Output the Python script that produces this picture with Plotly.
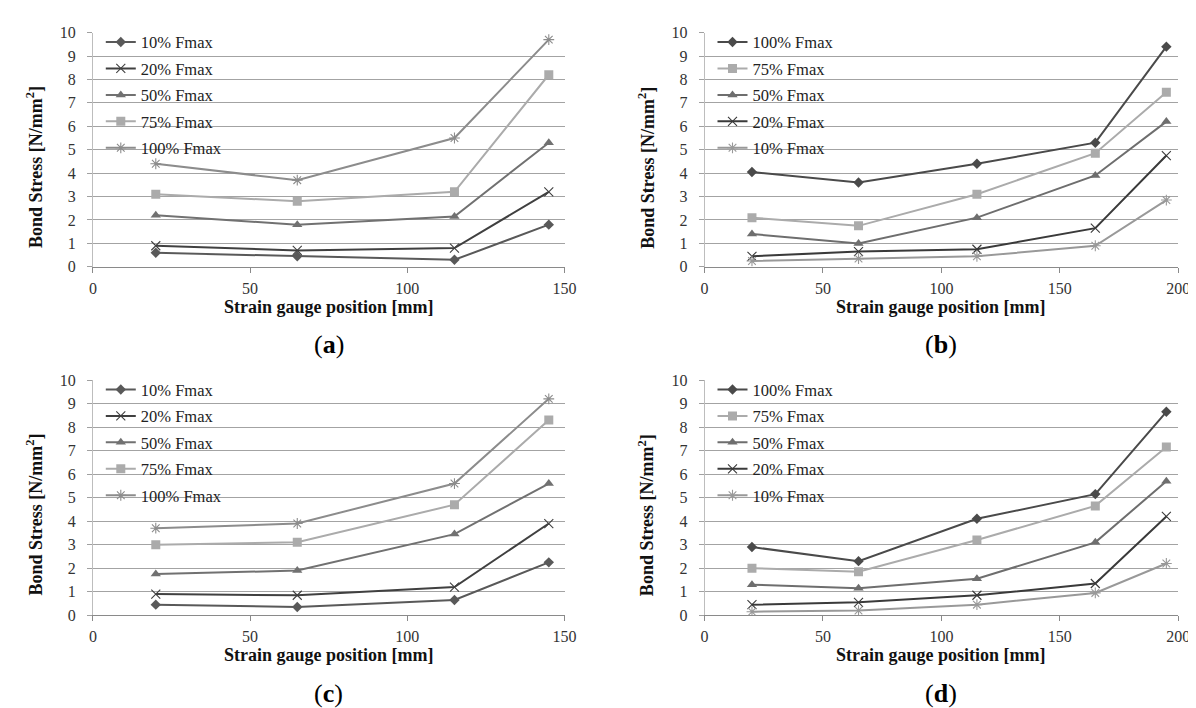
import plotly.graph_objects as go

W, H = 1196, 708

# ---------------- data ----------------
x_ac = [20, 65, 115, 145]
x_bd = [20, 65, 115, 165, 195]

a_10 = [0.6, 0.45, 0.3, 1.8]
a_20 = [0.9, 0.7, 0.8, 3.2]
a_50 = [2.2, 1.8, 2.15, 5.3]
a_75 = [3.1, 2.8, 3.2, 8.2]
a_100 = [4.4, 3.7, 5.5, 9.7]

b_100 = [4.05, 3.6, 4.4, 5.3, 9.4]
b_75 = [2.1, 1.75, 3.1, 4.85, 7.45]
b_50 = [1.4, 1.0, 2.1, 3.9, 6.2]
b_20 = [0.45, 0.65, 0.75, 1.65, 4.75]
b_10 = [0.25, 0.35, 0.45, 0.9, 2.85]

c_10 = [0.45, 0.35, 0.65, 2.25]
c_20 = [0.9, 0.85, 1.2, 3.9]
c_50 = [1.75, 1.9, 3.45, 5.6]
c_75 = [3.0, 3.1, 4.7, 8.3]
c_100 = [3.7, 3.9, 5.6, 9.2]

d_100 = [2.9, 2.3, 4.1, 5.15, 8.65]
d_75 = [2.0, 1.85, 3.2, 4.65, 7.15]
d_50 = [1.3, 1.15, 1.55, 3.1, 5.7]
d_20 = [0.45, 0.55, 0.85, 1.35, 4.2]
d_10 = [0.15, 0.2, 0.45, 0.95, 2.2]

x_ticks_ac = [0, 50, 100, 150]
x_ticks_bd = [0, 50, 100, 150, 200]
y_ticks = list(range(0, 11))

panel_labels = ["a", "b", "c", "d"]
x_title = "Strain gauge position [mm]"
y_title = "Bond Stress [N/mm<sup>2</sup>]"

# ---------------- styles ----------------
FONT = "Liberation Serif, Times New Roman, serif"
styles = {
    "diamond": dict(symbol="diamond", size=8),
    "x": dict(symbol="x-thin-open", size=9, line=dict(width=1.1)),
    "triangle": dict(symbol="triangle-up", size=9),
    "square": dict(symbol="square", size=9),
    "asterisk": dict(symbol="asterisk-open", size=9, line=dict(width=1.1)),
}

panels = [
    dict(x=x_ac, series=[("10% Fmax", a_10, "diamond", "#595959"),
                         ("20% Fmax", a_20, "x", "#404040"),
                         ("50% Fmax", a_50, "triangle", "#717171"),
                         ("75% Fmax", a_75, "square", "#ababab"),
                         ("100% Fmax", a_100, "asterisk", "#8c8c8c")],
         xr=[0, 150], xt=x_ticks_ac),
    dict(x=x_bd, series=[("100% Fmax", b_100, "diamond", "#4a4a4a"),
                         ("75% Fmax", b_75, "square", "#ababab"),
                         ("50% Fmax", b_50, "triangle", "#6e6e6e"),
                         ("20% Fmax", b_20, "x", "#3a3a3a"),
                         ("10% Fmax", b_10, "asterisk", "#999999")],
         xr=[0, 200], xt=x_ticks_bd),
    dict(x=x_ac, series=[("10% Fmax", c_10, "diamond", "#595959"),
                         ("20% Fmax", c_20, "x", "#404040"),
                         ("50% Fmax", c_50, "triangle", "#717171"),
                         ("75% Fmax", c_75, "square", "#ababab"),
                         ("100% Fmax", c_100, "asterisk", "#8c8c8c")],
         xr=[0, 150], xt=x_ticks_ac),
    dict(x=x_bd, series=[("100% Fmax", d_100, "diamond", "#4a4a4a"),
                         ("75% Fmax", d_75, "square", "#ababab"),
                         ("50% Fmax", d_50, "triangle", "#6e6e6e"),
                         ("20% Fmax", d_20, "x", "#3a3a3a"),
                         ("10% Fmax", d_10, "asterisk", "#999999")],
         xr=[0, 200], xt=x_ticks_bd),
]

# pixel geometry -> paper
def px(v):
    return v / W

def py(v):
    return 1 - v / H

x_doms = [(82, 560), (702, 1182), (82, 560), (702, 1182)]
y_doms = [(17, 257), (17, 257), (373, 614), (373, 614)]

fig = go.Figure()
layout = dict(
    width=W, height=H,
    margin=dict(l=0, r=0, t=0, b=0),
    paper_bgcolor="white", plot_bgcolor="white",
    font=dict(family=FONT, size=16, color="#333333"),
    showlegend=True,
)
annotations = []

for i, p in enumerate(panels):
    k = "" if i == 0 else str(i + 1)
    leg = "legend" if i == 0 else f"legend{i + 1}"
    for j, (name, vals, sym, col) in enumerate(p["series"]):
        m = dict(styles[sym])
        m["color"] = col
        if "line" in m:
            m["line"] = dict(m["line"], color=col)
        fig.add_trace(go.Scatter(
            x=p["x"], y=vals, name=name, mode="lines+markers",
            line=dict(color=col, width=2), marker=m,
            xaxis="x" + k, yaxis="y" + k, legend=leg,
            legendgroup=f"{i}-{j}",
        ))
    x0, x1 = x_doms[i]
    y0, y1 = y_doms[i]
    layout["xaxis" + k] = dict(
        domain=[px(x0), px(x1)], range=p["xr"], anchor="y" + k,
        tickvals=p["xt"], ticks="outside", ticklen=5, tickcolor="#8a8a8a",
        showline=True, linecolor="#8a8a8a", linewidth=1,
        showgrid=False, zeroline=False, ticklabelstandoff=2,
        tickfont=dict(family=FONT, size=16, color="#333333"),
    )
    layout["yaxis" + k] = dict(
        domain=[py(y1), py(y0)], range=[0, 10], anchor="x" + k,
        tickvals=y_ticks, ticks="outside", ticklen=5, tickcolor="#a0a0a0",
        showline=True, linecolor="#bdbdbd", linewidth=1,
        showgrid=True, gridcolor="#a3a3a3", gridwidth=1, zeroline=False,
        ticklabelstandoff=8,
        tickfont=dict(family=FONT, size=16, color="#333333"),
    )
    layout[leg] = dict(
        x=px(x0 + 8), y=py(y0 - 8), xanchor="left", yanchor="top",
        bgcolor="rgba(0,0,0,0)", borderwidth=0,
        font=dict(family=FONT, size=16.5, color="#222222"),
        tracegroupgap=2, traceorder="grouped", itemwidth=30,
    )
    cx = px((x0 + x1) / 2)
    ytx = 23 if i in (0, 2) else 643
    annotations.append(dict(
        text=f"<b>{y_title}</b>", x=px(ytx), y=py(y0 + 138), xref="paper", yref="paper",
        textangle=-90, showarrow=False, xanchor="center", yanchor="middle",
        font=dict(family=FONT, size=18, color="#111111"),
    ))
    annotations.append(dict(
        text=f"<b>{x_title}</b>", x=cx, y=py(y1 + 41), xref="paper", yref="paper",
        showarrow=False, xanchor="center", yanchor="middle",
        font=dict(family=FONT, size=18, color="#111111"),
    ))
    annotations.append(dict(
        text=f"(<b>{panel_labels[i]}</b>)", x=cx, y=py(y1 + 80), xref="paper", yref="paper",
        showarrow=False, xanchor="center", yanchor="middle",
        font=dict(family=FONT, size=26, color="#000000"),
    ))

layout["annotations"] = annotations
fig.update_layout(**layout)
fig.write_html("out.html")
